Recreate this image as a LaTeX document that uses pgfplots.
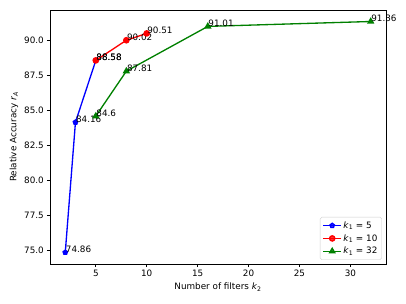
\documentclass[border=0pt]{standalone}
\usepackage{pgfplots}
\pgfplotsset{compat=1.18}
\usepackage{fontspec}
\setmainfont{DejaVu Sans}
\begin{document}
\begin{tikzpicture}
\useasboundingbox (-56.75pt,-45.4pt) rectangle (404.1pt,299.6pt);
\begin{axis}[
  at={(0,0)}, anchor=south west,
  scale only axis,
  width=381.4pt, height=288.3pt,
  xmin=0.5, xmax=33.5, ymin=74.035, ymax=92.185,
  xtick={5,10,15,20,25,30},
  ytick={75,77.5,80,82.5,85,87.5,90},
  xtick pos=bottom, ytick pos=left,
  tick align=outside,
  major tick length=3.5pt,
  tick style={black, line width=0.8pt},
  axis line style={line width=0.8pt},
  /pgf/number format/assume math mode=true,
  yticklabel style={/pgf/number format/.cd, fixed, fixed zerofill, precision=1},
  ticklabel style={font=\fontsize{10}{12}\selectfont},
  label style={font=\fontsize{10}{12}\selectfont},
  xlabel={Number of filters \textit{k}\textsubscript{2}},
  ylabel={Relative Accuracy \textit{r}\textsubscript{\textit{A}}},
  clip=false,
  legend style={at={(0.988,0.016)}, anchor=south east,
    draw=black!20, rounded corners=2pt, fill=white, fill opacity=0.8, text opacity=1,
    font=\fontsize{10}{12}\selectfont, row sep=1.5pt, inner sep=3pt},
  legend cell align=left,
  legend image code/.code={
    \draw[mark repeat=2,mark phase=2] plot coordinates {(0pt,0pt) (10pt,0pt) (20pt,0pt)};
  },
  every node near coord/.append style={anchor=base west, inner sep=0pt, text=black, font=\fontsize{10}{12}\selectfont},
]
\addplot[blue, line width=1.5pt, mark=pentagon*, mark size=2.6pt, nodes near coords, point meta=explicit symbolic]
  coordinates {(2,74.86) [74.86] (3,84.16) [84.16] (5,88.58) [88.58]};
\addlegendentry{\textit{k}\textsubscript{1} = 5}
\addplot[red, line width=1.5pt, mark=*, mark size=3pt, nodes near coords, point meta=explicit symbolic]
  coordinates {(5,88.58) [88.58] (8,90.02) [90.02] (10,90.51) [90.51]};
\addlegendentry{\textit{k}\textsubscript{1} = 10}
\addplot[green!50!black, line width=1.5pt, mark=triangle*, mark size=3.4pt, nodes near coords, point meta=explicit symbolic]
  coordinates {(5,84.6) [84.6] (8,87.81) [87.81] (16,91.01) [91.01] (32,91.36) [91.36]};
\addlegendentry{\textit{k}\textsubscript{1} = 32}
\end{axis}
\end{tikzpicture}
\end{document}
